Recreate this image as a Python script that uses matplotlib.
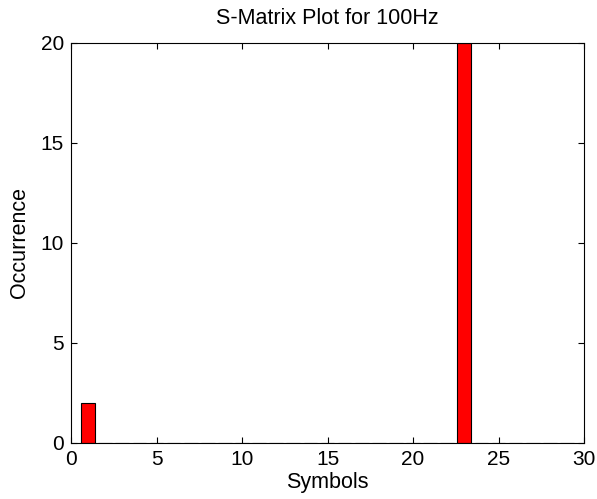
import matplotlib
matplotlib.use("Agg")
import matplotlib.pyplot as plt

symbols = list(range(1, 30))
occurrence = [0] * 29
occurrence[0] = 2
occurrence[22] = 20

plt.rcParams['font.family'] = ['Liberation Sans', 'DejaVu Sans']
fig = plt.figure(figsize=(5.97, 4.99), dpi=100)
ax = fig.add_axes([71/597, 56/499, 513/597, 400/499])
ax.bar(symbols, occurrence, width=0.8, color='#ff0000', edgecolor='#000000', linewidth=0.8)
ax.set_xlim(0, 30)
ax.set_ylim(0, 20)
ax.set_xticks([0, 5, 10, 15, 20, 25, 30])
ax.set_yticks([0, 5, 10, 15, 20])
ax.tick_params(direction='in', top=True, right=True, labelsize=15, length=4, pad=5)
for s in ax.spines.values():
    s.set_linewidth(0.8)
ax.set_xlabel('Symbols', fontsize=15.5, labelpad=2)
ax.set_ylabel('Occurrence', fontsize=15.5, labelpad=8)
ax.set_title('S-Matrix Plot for 100Hz', fontsize=15.5, pad=14)
fig.savefig('out.png', dpi=100)
